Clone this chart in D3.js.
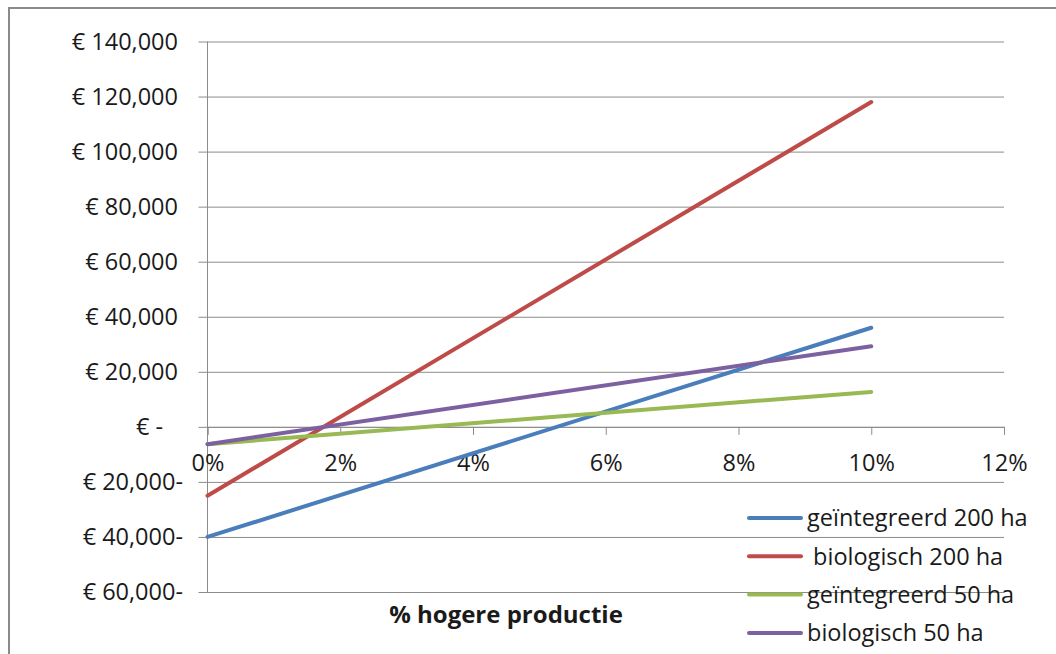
<!DOCTYPE html>
<html>
<head>
<meta charset="utf-8">
<script src="https://cdn.jsdelivr.net/npm/d3@7"></script>
<style>
  body { margin: 0; background: #fff; }
  text { font-family: "Open Sans", Lato, sans-serif; fill: #1a1a1a; }
</style>
</head>
<body>
<div id="chart"></div>
<script>
// data
const seriesNames = ["geïntegreerd 200 ha", " biologisch 200 ha", "geïntegreerd 50 ha", "biologisch 50 ha"];
const seriesColors = ["#4a7ebb", "#be4b48", "#98b954", "#7d60a0"];
const xPoints = [0, 0.10];
const geint200 = [-40000, 36000];
const bio200 = [-25000, 118000];
const geint50 = [-6300, 12700];
const bio50 = [-6300, 29300];
const xTicks = [0, 0.02, 0.04, 0.06, 0.08, 0.10, 0.12];
const yTicks = [-60000, -40000, -20000, 0, 20000, 40000, 60000, 80000, 100000, 120000, 140000];

const svgWidth = 1056;
const svgHeight = 654;
const labelFont = "23.5px";

const svg = d3.select("#chart")
  .append("svg")
  .attr("width", svgWidth)
  .attr("height", svgHeight);

// outer chart border (top + left only visible)
svg.append("path")
  .attr("d", `M9,${svgHeight} V8 H${svgWidth}`)
  .attr("fill", "none")
  .attr("stroke", "#8a8a8a")
  .attr("stroke-width", 2);

const xScale = d3.scaleLinear().domain([0, 0.12]).range([207.5, 1004]);
const yScale = d3.scaleLinear().domain([-60000, 140000]).range([592, 41.5]);

// gridlines + outside ticks
svg.append("g")
  .attr("transform", `translate(${xScale(0)},0)`)
  .call(d3.axisLeft(yScale).tickValues(yTicks).tickSize(-(xScale(0.12) - xScale(0))).tickFormat(""))
  .call(g => g.select(".domain").remove())
  .call(g => g.selectAll(".tick line").attr("stroke", "#8c8c8c").attr("x1", -9));

// y axis line
svg.append("line")
  .attr("x1", xScale(0)).attr("x2", xScale(0))
  .attr("y1", yScale(140000)).attr("y2", yScale(-60000))
  .attr("stroke", "#8c8c8c");

// y tick labels, accounting style
const fmt = d3.format(",");
svg.append("g").selectAll("text")
  .data(yTicks).enter()
  .append("text")
  .attr("x", d => d < 0 ? 183 : d === 0 ? 163 : 178)
  .attr("y", d => yScale(d))
  .attr("dy", "0.35em")
  .attr("text-anchor", "end")
  .style("font-size", labelFont)
  .text(d => d === 0 ? "€ -" : d < 0 ? `€ ${fmt(-d)}-` : `€ ${fmt(d)}`);

// x axis at zero
const xAxis = svg.append("g")
  .attr("transform", `translate(0,${yScale(0)})`)
  .call(d3.axisBottom(xScale).tickValues(xTicks).tickSize(8).tickFormat(d3.format(".0%")));
xAxis.select(".domain").attr("stroke", "#8c8c8c");
xAxis.selectAll(".tick line").attr("stroke", "#8c8c8c");
xAxis.selectAll(".tick text")
  .attr("y", 36)
  .attr("dy", "0.35em")
  .style("font-size", labelFont)
  .style("font-family", "'Open Sans', Lato, sans-serif")
  .attr("fill", "#1a1a1a");

// series lines
const allSeries = [geint200, bio200, geint50, bio50];
const line = d3.line()
  .x((d, i) => xScale(xPoints[i]))
  .y(d => yScale(d));

svg.append("g").selectAll("path")
  .data(allSeries).enter()
  .append("path")
  .attr("d", d => line(d))
  .attr("fill", "none")
  .attr("stroke", (d, i) => seriesColors[i])
  .attr("stroke-width", 4)
  .attr("stroke-linecap", "round");

// x axis title
svg.append("text")
  .attr("x", 506)
  .attr("y", 623)
  .attr("text-anchor", "middle")
  .style("font-size", "24px")
  .style("font-weight", "bold")
  .text("% hogere productie");

// legend
const legend = svg.append("g").selectAll("g")
  .data(seriesNames).enter()
  .append("g")
  .attr("transform", (d, i) => `translate(748,${518 + i * 38.3})`);

legend.append("line")
  .attr("x1", 1).attr("x2", 53)
  .attr("stroke", (d, i) => seriesColors[i])
  .attr("stroke-width", 4)
  .attr("stroke-linecap", "round");

legend.append("text")
  .attr("x", 59)
  .attr("dy", "0.35em")
  .style("font-size", "23.5px")
  .style("white-space", "pre")
  .text(d => d);
</script>
</body>
</html>
